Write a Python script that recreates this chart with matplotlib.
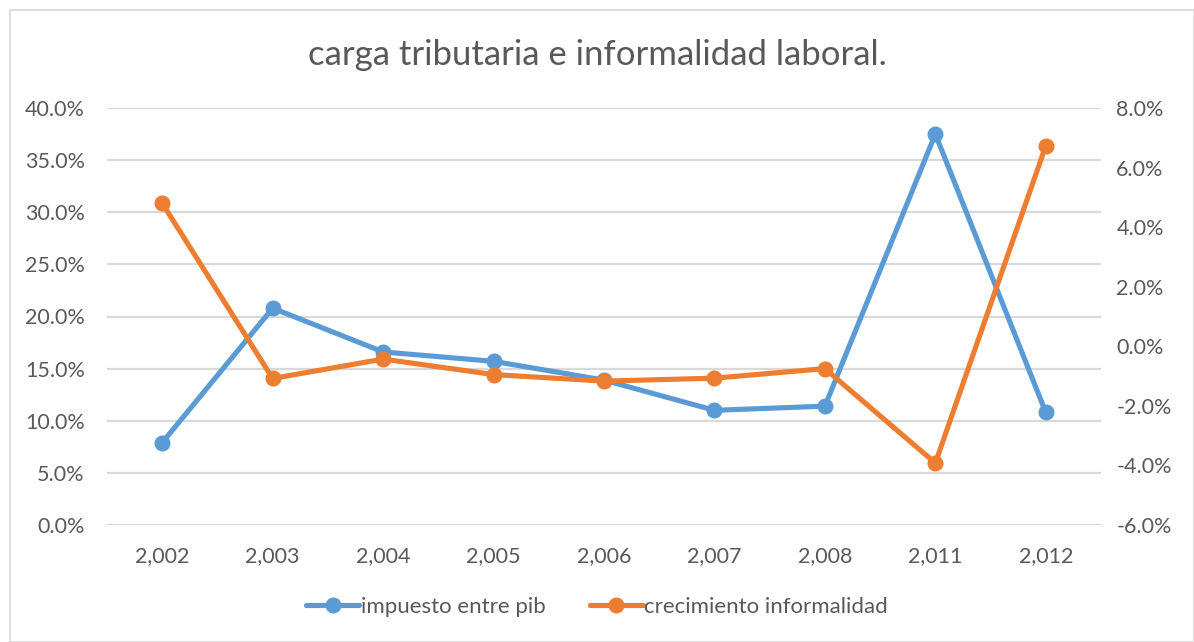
import matplotlib.pyplot as plt
from matplotlib.patches import Rectangle
from matplotlib.ticker import FuncFormatter, MultipleLocator
import numpy as np

plt.rcParams['font.family'] = ['Lato', 'DejaVu Sans']

# data
years = ['2,002', '2,003', '2,004', '2,005', '2,006', '2,007', '2,008', '2,011', '2,012']
impuesto = [7.9, 20.8, 16.6, 15.7, 13.9, 11.0, 11.4, 37.5, 10.8]        # % left axis
informalidad = [4.8, -1.08, -0.43, -0.95, -1.17, -1.07, -0.75, -3.92, 6.73]  # % right axis

BLUE = '#5B9BD5'
ORANGE = '#ED7D31'
GRID = '#D9D9D9'
TXT = '#595959'

fig = plt.figure(figsize=(11.94, 6.42), dpi=100)
fig.patches.append(Rectangle((10 / 1194, 0.0), 1 - 10 / 1194, 1 - 10 / 642,
                             transform=fig.transFigure, fill=False,
                             edgecolor='#D9D9D9', lw=1.2))

ax = fig.add_axes([107 / 1194, 1 - 525 / 642, 994 / 1194, (525 - 108) / 642])
ax2 = ax.twinx()

x = np.arange(len(years))
l1, = ax.plot(x, impuesto, color=BLUE, lw=3.7, marker='o', ms=10.5,
              solid_capstyle='round', zorder=3, label='impuesto entre pib')
l2, = ax2.plot(x, informalidad, color=ORANGE, lw=3.7, marker='o', ms=10.5,
               solid_capstyle='round', zorder=3, label='crecimiento informalidad')

ax.set_xlim(-0.5, len(years) - 0.5)
ax.set_ylim(0, 40)
ax2.set_ylim(-6, 8)
ax.yaxis.set_major_locator(MultipleLocator(5))
ax2.yaxis.set_major_locator(MultipleLocator(2))
ax.yaxis.set_major_formatter(FuncFormatter(lambda v, p: f'{v:.1f}%'))
ax2.yaxis.set_major_formatter(FuncFormatter(lambda v, p: f'{v:.1f}%'))
ax.set_xticks(x)
ax.set_xticklabels(years)

ax.grid(axis='y', color=GRID, lw=1.6)
ax.set_axisbelow(True)
for a in (ax, ax2):
    for s in a.spines.values():
        s.set_visible(False)
    a.tick_params(length=0, labelsize=15.5, colors=TXT)
ax.tick_params(axis='y', pad=16)
ax2.tick_params(axis='y', pad=11)
ax.tick_params(axis='x', pad=15)

fig.text(0.5, 1 - 55 / 642, 'carga tributaria e informalidad laboral.',
         ha='center', va='center', fontsize=25, color=TXT)

fig.legend(handles=[l1, l2], loc='center', bbox_to_anchor=(0.5, 1 - 607 / 642),
           ncol=2, frameon=False, fontsize=16, labelcolor=TXT,
           handlelength=2.4, handletextpad=0.05, columnspacing=2.0)

fig.savefig('out.png', dpi=100)
